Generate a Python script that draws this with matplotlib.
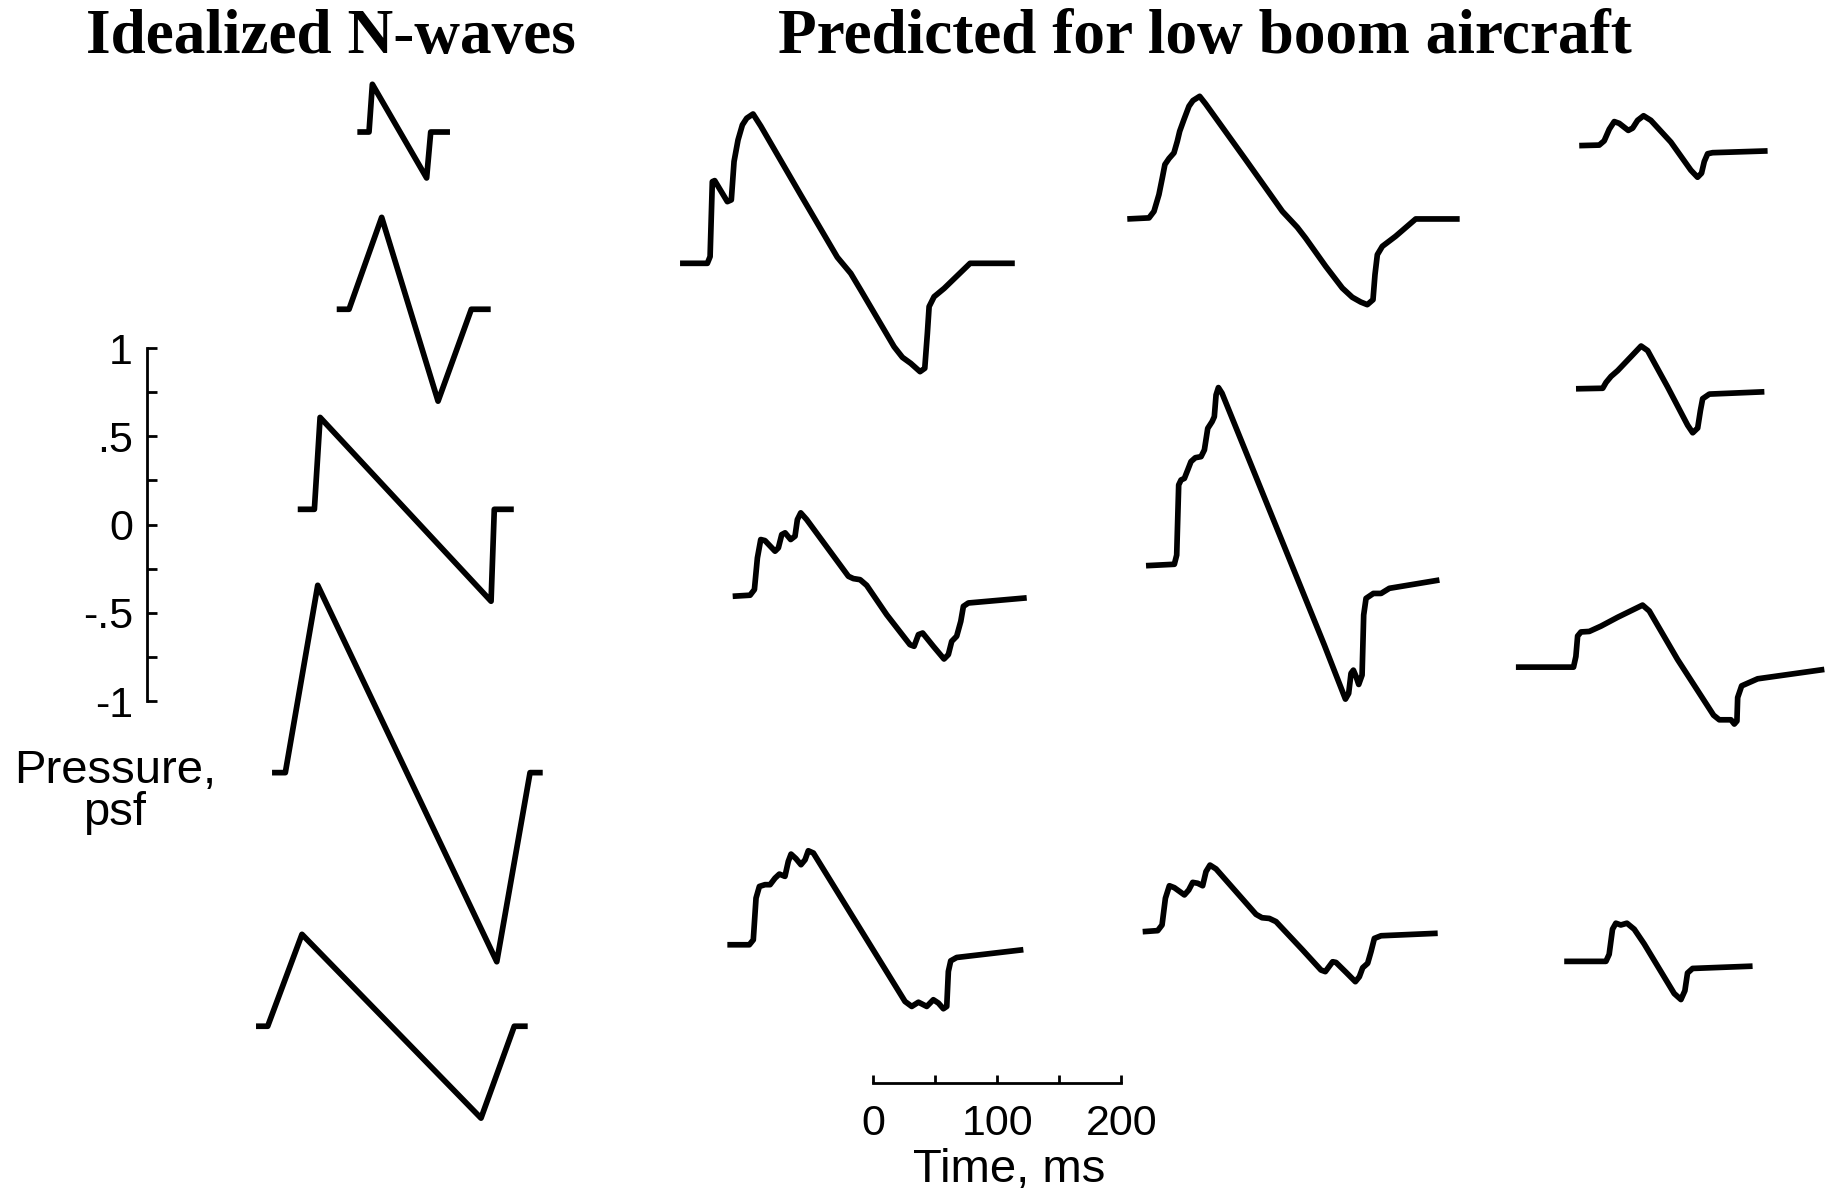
import matplotlib
matplotlib.use("Agg")
import matplotlib.pyplot as plt

# ---- Idealized N-waves: time from wave onset (ms), overpressure (psf) ----
n1_t = [0, 9.4, 12.1, 55.8, 59.1, 74.6]
n1_p = [0, 0, 0.27, -0.26, 0, 0]
n2_t = [0, 9.9, 36.2, 81.6, 108.4, 124.0]
n2_p = [0, 0, 0.52, -0.52, 0, 0]
n3_t = [0, 13.4, 18.0, 155.7, 158.3, 174.0]
n3_p = [0, 0, 0.52, -0.52, 0, 0]
n4_t = [0, 10.7, 36.8, 181.0, 207.8, 218.0]
n4_p = [0, 0, 1.06, -1.07, 0, 0]
n5_t = [0, 9.4, 37.0, 181.2, 208.0, 218.8]
n5_p = [0, 0, 0.52, -0.52, 0, 0]

# ---- Predicted signatures for low boom aircraft ----
a1_t = [0, 22.0, 24.2, 26.0, 27.9, 38.1, 41.3, 43.5, 46.7, 50.2, 53.7, 58.8, 65.0,
        97.2, 126.7, 137.5, 145.5, 158.9, 172.4, 179.1, 185.8, 193.3, 197.1, 199.2,
        200.6, 204.6, 212.7, 233.6, 269.6]
a1_p = [0, 0, 0.038, 0.462, 0.468, 0.349, 0.359, 0.576, 0.698, 0.783, 0.821, 0.845,
        0.777, 0.387, 0.034, -0.057, -0.151, -0.311, -0.472, -0.532, -0.566, -0.613,
        -0.594, -0.396, -0.245, -0.189, -0.142, 0, 0]

b1_t = [0, 14.0, 17.5, 19.9, 22.6, 26.0, 34.1, 36.8, 39.5, 42.2, 46.7, 50.2, 52.1,
        54.8, 59.6, 93.2, 97.2, 102.6, 107.9, 124.0, 142.8, 146.1, 149.6, 153.0,
        161.6, 170.2, 173.7, 176.4, 180.4, 183.7, 185.8, 189.8, 236.8]
b1_p = [0, 0.006, 0.038, 0.217, 0.321, 0.315, 0.255, 0.274, 0.349, 0.359, 0.321,
        0.340, 0.434, 0.472, 0.434, 0.113, 0.100, 0.094, 0.062, -0.104, -0.274,
        -0.283, -0.217, -0.208, -0.283, -0.355, -0.330, -0.255, -0.226, -0.142,
        -0.057, -0.038, -0.009]

c1_t = [0, 17.7, 20.9, 23.1, 25.8, 30.3, 34.4, 38.4, 41.9, 46.4, 49.1, 51.3, 55.3,
        59.3, 62.6, 65.2, 69.3, 143.1, 148.5, 153.9, 160.6, 165.9, 170.0, 174.0,
        176.7, 178.0, 179.9, 184.7, 238.4]
c1_p = [0, 0, 0.028, 0.264, 0.330, 0.340, 0.340, 0.377, 0.400, 0.387, 0.472, 0.513,
        0.487, 0.453, 0.481, 0.532, 0.519, -0.321, -0.349, -0.325, -0.349, -0.311,
        -0.330, -0.362, -0.349, -0.151, -0.091, -0.072, -0.028]

a2_t = [0, 17.5, 21.5, 25.5, 28.2, 30.3, 33.6, 37.6, 40.3, 42.2, 45.6, 49.7, 52.9,
        58.3, 63.1, 95.3, 124.9, 136.9, 143.6, 159.8, 173.2, 181.2, 188.0, 193.3,
        197.9, 199.5, 201.4, 205.4, 216.1, 232.3, 267.7]
a2_p = [0, 0.006, 0.043, 0.138, 0.232, 0.308, 0.342, 0.374, 0.440, 0.496, 0.562,
        0.638, 0.670, 0.694, 0.651, 0.336, 0.043, -0.047, -0.108, -0.268, -0.391,
        -0.443, -0.470, -0.485, -0.457, -0.315, -0.202, -0.155, -0.098, 0, 0]

b2_t = [0, 22.8, 24.7, 26.3, 28.2, 30.9, 33.6, 36.2, 39.7, 44.3, 47.0, 49.7, 53.2,
        55.0, 56.4, 58.3, 61.2, 143.6, 160.6, 163.2, 165.1, 167.0, 169.2, 171.3,
        174.0, 175.3, 177.2, 183.1, 189.3, 196.0, 236.3]
b2_p = [0, 0.008, 0.060, 0.457, 0.485, 0.494, 0.542, 0.589, 0.611, 0.617, 0.655,
        0.777, 0.815, 0.843, 0.966, 1.008, 0.976, -0.449, -0.755, -0.723, -0.609,
        -0.591, -0.628, -0.672, -0.619, -0.279, -0.185, -0.157, -0.157, -0.128,
        -0.081]

c2_t = [0, 12.1, 15.6, 18.3, 21.5, 25.5, 33.6, 37.1, 40.3, 44.3, 48.3, 51.0, 54.2,
        59.1, 91.3, 96.1, 102.0, 107.4, 128.9, 143.6, 147.1, 153.0, 155.7, 163.8,
        171.3, 174.5, 177.2, 181.2, 183.9, 186.6, 192.0, 237.6]
c2_p = [0, 0.006, 0.038, 0.189, 0.260, 0.249, 0.208, 0.236, 0.279, 0.274, 0.260,
        0.340, 0.377, 0.355, 0.098, 0.079, 0.075, 0.057, -0.104, -0.217, -0.226,
        -0.170, -0.174, -0.230, -0.283, -0.255, -0.204, -0.179, -0.113, -0.038,
        -0.023, -0.009]

r1_t = [0, 16.1, 20.1, 24.2, 28.2, 32.2, 39.5, 43.0, 47.0, 51.8, 57.7, 73.8, 89.9,
        95.3, 98.5, 100.7, 103.4, 107.4, 151.7]
r1_p = [0, 0.003, 0.027, 0.093, 0.136, 0.126, 0.086, 0.099, 0.143, 0.169, 0.143,
        0.020, -0.139, -0.179, -0.156, -0.090, -0.046, -0.040, -0.030]

r2_t = [0, 21.5, 24.2, 28.2, 33.6, 44.3, 52.4, 57.7, 73.8, 89.9, 94.0, 98.0, 100.2,
        102.0, 107.4, 151.7]
r2_p = [0, 0.003, 0.036, 0.070, 0.103, 0.182, 0.242, 0.216, 0.010, -0.206, -0.249,
        -0.222, -0.123, -0.056, -0.030, -0.017]

r3_t = [0, 46.4, 48.3, 49.7, 52.4, 59.1, 68.5, 81.9, 102.0, 107.4, 130.2, 159.2,
        163.8, 173.2, 175.9, 178.0, 178.6, 181.8, 194.7, 248.4]
r3_p = [0, 0, 0.060, 0.176, 0.199, 0.202, 0.232, 0.282, 0.351, 0.318, 0.043, -0.272,
        -0.298, -0.298, -0.322, -0.305, -0.172, -0.106, -0.066, -0.013]

r4_t = [0, 33.6, 36.2, 38.9, 41.6, 45.6, 50.5, 56.4, 64.4, 88.6, 94.0, 97.2, 99.3,
        103.4, 151.7]
r4_p = [0, 0, 0.040, 0.182, 0.216, 0.206, 0.216, 0.182, 0.099, -0.182, -0.216,
        -0.166, -0.066, -0.040, -0.027]

# onset time (ms) and baseline (psf) of every trace on the shared page scale
traces = [
    (n1_t, n1_p, -415.3, 2.222),
    (n2_t, n2_p, -431.9, 1.219),
    (n3_t, n3_p, -463.3, 0.087),
    (n4_t, n4_p, -484.0, -1.403),
    (n5_t, n5_p, -496.9, -2.838),
    (a1_t, a1_p, -155.4, 1.479),
    (b1_t, b1_p, -113.0, -0.405),
    (c1_t, c1_p, -117.3, -2.377),
    (a2_t, a2_p, 204.8, 1.730),
    (b2_t, b2_p, 219.9, -0.232),
    (c2_t, c2_p, 217.2, -2.303),
    (r1_t, r1_p, 568.8, 2.145),
    (r2_t, r2_p, 566.2, 0.769),
    (r3_t, r3_p, 517.8, -0.806),
    (r4_t, r4_p, 556.7, -2.471),
]

W, H = 1837, 1192
fig = plt.figure(figsize=(W / 100, H / 100), dpi=100)

# one page-wide axes: x in ms, y in psf
ax = fig.add_axes([0, 0, 1, 1])
ax.set_xlim(-703.1, 776.4)
ax.set_ylim(-3.776, 2.969)
ax.axis("off")

for t, p, t0, p0 in traces:
    ax.plot([t0 + v for v in t], [p0 + v for v in p], color="black", lw=4.1,
            solid_joinstyle="round", solid_capstyle="butt")

sans = "Liberation Sans"
serif = "Liberation Serif"

# pressure scale bar
axp = fig.add_axes([146.7 / W, 1 - 701.3 / H, 0.02, 353.3 / H])
axp.set_ylim(-1, 1)
axp.patch.set_alpha(0)
for s in ["top", "right", "bottom"]:
    axp.spines[s].set_visible(False)
axp.spines["left"].set_linewidth(2)
axp.set_xticks([])
axp.set_yticks([-1, -0.75, -0.5, -0.25, 0, 0.25, 0.5, 0.75, 1])
axp.set_yticklabels(["-1", "", "-.5", "", "0", "", ".5", "", "1"],
                    fontsize=31, family=sans)
axp.tick_params(axis="y", direction="in", length=7, width=2, pad=10)
fig.text(115 / W, 1 - 792 / H, "Pressure,\npsf", ha="center", va="center",
         fontsize=34, family=sans, linespacing=0.95)

# time scale bar
axt = fig.add_axes([873 / W, 1 - 1082.7 / H, 248.3 / W, 0.02])
axt.set_xlim(0, 200)
axt.patch.set_alpha(0)
for s in ["top", "right", "left"]:
    axt.spines[s].set_visible(False)
axt.spines["bottom"].set_linewidth(2)
axt.set_yticks([])
axt.set_xticks([0, 50, 100, 150, 200])
axt.set_xticklabels(["0", "", "100", "", "200"], fontsize=31, family=sans)
axt.tick_params(axis="x", direction="in", length=6, width=2, pad=15)
fig.text(1009 / W, 1 - 1170 / H, "Time, ms", ha="center", va="center",
         fontsize=34, family=sans)

# headings
fig.text(330.4 / W, 1 - 53 / H, "Idealized N-waves", ha="center", va="baseline",
         fontsize=45.5, family=serif, weight="bold")
fig.text(1204.4 / W, 1 - 53 / H, "Predicted for low boom aircraft", ha="center",
         va="baseline", fontsize=45.5, family=serif, weight="bold")

fig.savefig("out.png", dpi=100)
